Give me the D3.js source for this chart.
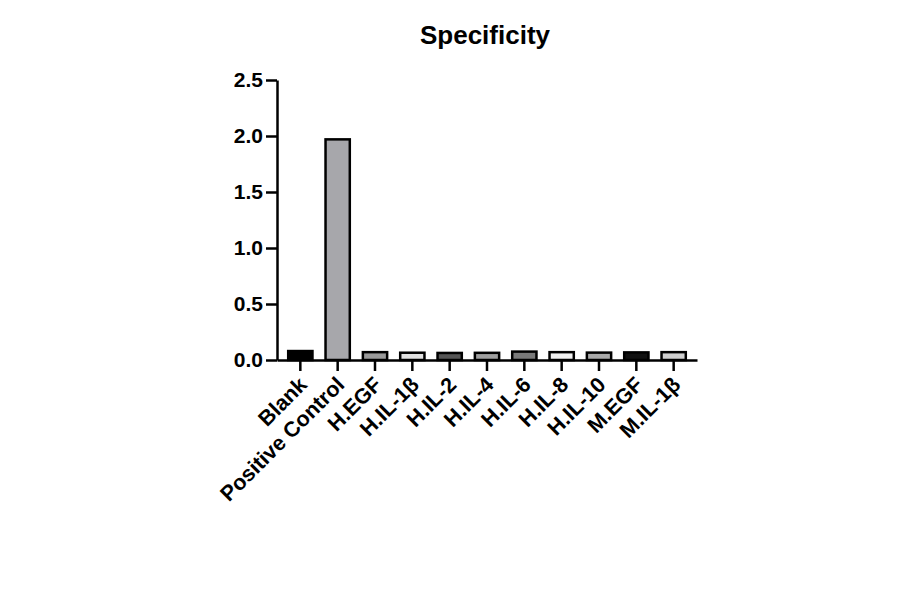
<!DOCTYPE html>
<html>
<head>
<meta charset="utf-8">
<script src="https://cdn.jsdelivr.net/npm/d3@7"></script>
<style>
  body { margin: 0; background: #fff; }
  text { font-family: "Liberation Sans", Arial, sans-serif; font-weight: bold; }
</style>
</head>
<body>
<div id="chart"></div>
<script>
/* Specificity bar chart */

const categories = ["Blank", "Positive Control", "H.EGF", "H.IL-1\u03b2", "H.IL-2", "H.IL-4",
                    "H.IL-6", "H.IL-8", "H.IL-10", "M.EGF", "M.IL-1\u03b2"];
const values = [0.08, 1.97, 0.07, 0.065, 0.063, 0.064, 0.075, 0.07, 0.066, 0.068, 0.07];
const fills = ["#000000", "#a7a7ab", "#9a9a9a", "#e2e2e2", "#555555", "#a0a0a0",
               "#7a7a7a", "#f0f0f0", "#aaaaaa", "#111111", "#cfcfcf"];
const yTicks = [0, 0.5, 1.0, 1.5, 2.0, 2.5];

const width = 900,
      height = 594;

let svg = d3.select("#chart")
    .append("svg")
    .attr("width", width)
    .attr("height", height);

let x = d3.scaleBand()
    .domain(categories)
    .range([277, 697])
    .paddingInner(0.35)
    .paddingOuter(0.3);

let y = d3.scaleLinear()
    .domain([0, 2.5])
    .range([360, 80]);

// bars
svg.selectAll(".bar")
    .data(categories)
    .join("rect")
    .attr("class", "bar")
    .attr("x", d => x(d))
    .attr("width", x.bandwidth())
    .attr("y", (d, i) => y(values[i]))
    .attr("height", (d, i) => y(0) - y(values[i]))
    .attr("fill", (d, i) => fills[i])
    .attr("stroke", "#000")
    .attr("stroke-width", 2.5);

// y axis
let yAxis = svg.append("g")
    .attr("transform", "translate(277,0)")
    .call(d3.axisLeft(y).tickValues(yTicks).tickFormat(d3.format(".1f")).tickSize(11).tickPadding(3).tickSizeOuter(0));
yAxis.select(".domain").attr("stroke-width", 2.5);
yAxis.selectAll(".tick line").attr("stroke-width", 2.5);
yAxis.selectAll(".tick text").attr("font-size", 21).attr("fill", "#000");

// x axis
let xAxis = svg.append("g")
    .attr("transform", "translate(0,360)")
    .call(d3.axisBottom(x).tickSize(11).tickSizeOuter(0));
xAxis.select(".domain").attr("stroke-width", 2.5);
xAxis.selectAll(".tick line").attr("stroke-width", 2.5);
xAxis.selectAll(".tick text")
    .attr("font-size", 21.5)
    .attr("fill", "#000")
    .attr("text-anchor", "end")
    .attr("x", 0)
    .attr("y", 0)
    .attr("dy", 0)
    .attr("transform", "translate(8,26) rotate(-45)");

// title
svg.append("text")
    .attr("x", 485)
    .attr("y", 44)
    .attr("text-anchor", "middle")
    .attr("font-size", 26)
    .text("Specificity");
</script>
</body>
</html>
